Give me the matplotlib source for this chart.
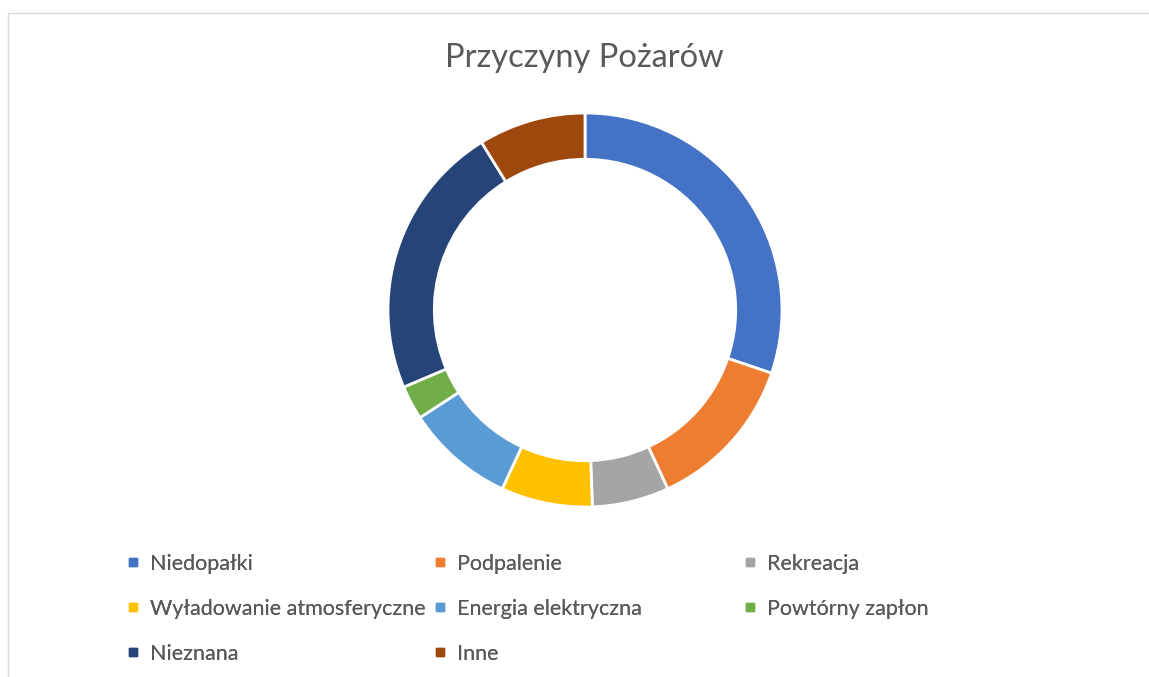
import matplotlib.pyplot as plt
from matplotlib.lines import Line2D
from matplotlib.patches import Rectangle

plt.rcParams['font.family'] = ['Lato', 'DejaVu Sans']

# data (share in %)
labels = ['Niedopałki', 'Podpalenie', 'Rekreacja', 'Wyładowanie atmosferyczne',
          'Energia elektryczna', 'Powtórny zapłon', 'Nieznana', 'Inne']
values = [30.2, 12.9, 6.3, 7.5, 8.9, 2.8, 22.6, 8.8]
colors = ['#4472C4', '#ED7D31', '#A5A5A5', '#FFC000',
          '#5B9BD5', '#70AD47', '#264478', '#9E480E']
title = 'Przyczyny Pożarów'

fig = plt.figure(figsize=(11.49, 6.77), dpi=100)

# thin grey chart frame like in excel
fig.patches.append(Rectangle((8 / 1149, -0.01), 1.1, 1 - 13 / 677 + 0.01,
                             transform=fig.transFigure, fill=False,
                             edgecolor='#D9D9D9', linewidth=1))

# pie area: centre (585, 310), outer radius ~197 px
r = 197
ax = fig.add_axes([(585 - r) / 1149, 1 - (310 + r) / 677, 2 * r / 1149, 2 * r / 677])
ax.pie(values, colors=colors, startangle=90, counterclock=False,
       wedgeprops=dict(width=0.235, edgecolor='white', linewidth=2))
ax.set_aspect('equal')
ax.set_xlim(-1, 1)
ax.set_ylim(-1, 1)
ax.axis('off')

fig.text(584 / 1149, 1 - 58 / 677, title, ha='center', va='center',
         fontsize=23.5, color='#595959')

# legend: three equal-width columns like excel
col_x = [127, 434, 744]
row_y = [560, 606, 651]
for c in range(3):
    idx = list(range(c, len(labels), 3))
    handles = [Line2D([], [], marker='s', linestyle='none', markersize=6,
                      markerfacecolor=colors[i], markeredgecolor=colors[i]) for i in idx]
    leg = fig.legend(handles, [labels[i] for i in idx],
                     loc='upper left',
                     bbox_to_anchor=(col_x[c] / 1149, 1 - (row_y[0] - 6) / 677),
                     frameon=False, fontsize=15.5, labelcolor='#595959',
                     handlelength=0.6, handletextpad=0.45, labelspacing=1.15,
                     borderaxespad=0, borderpad=0)
    fig.add_artist(leg)

fig.savefig('out.png', dpi=100, facecolor='white')
